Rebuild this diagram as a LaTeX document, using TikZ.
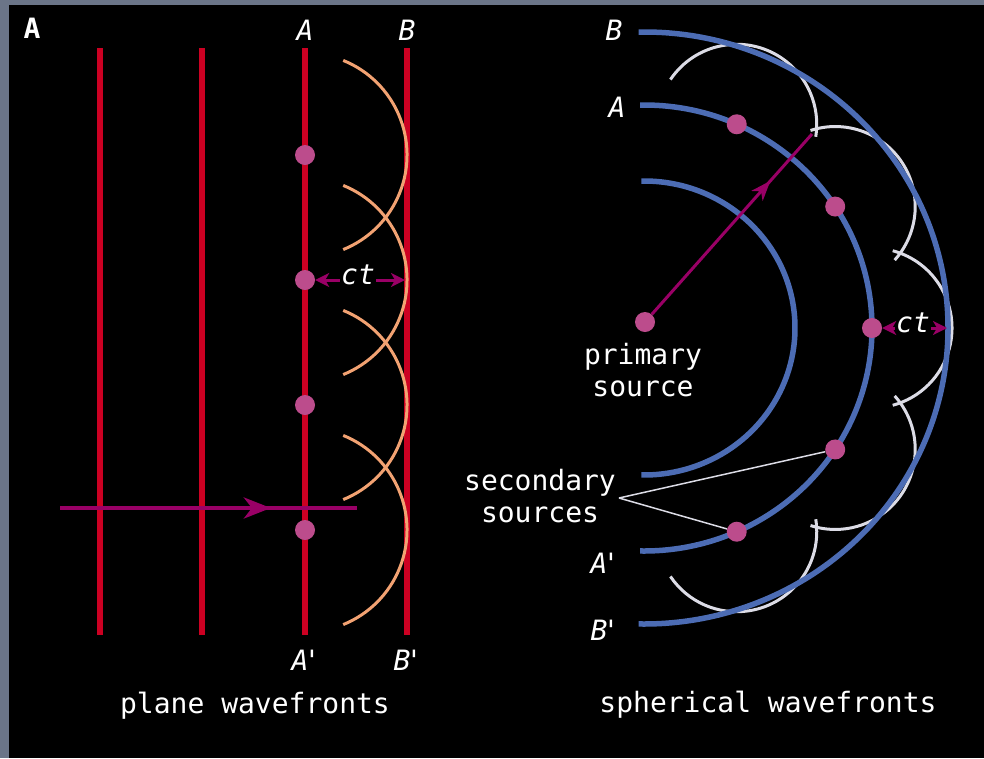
\documentclass[tikz,border=0pt]{standalone}
\usepackage{fontspec}
\newfontfamily\pixfont{DejaVu Sans Mono}
\usepackage{xcolor}
\usetikzlibrary{arrows.meta,calc,decorations.markings}
\definecolor{framec}{HTML}{6B7588}
\definecolor{frontc}{HTML}{CC0022}
\definecolor{waveletc}{HTML}{F2A272}
\definecolor{spherec}{HTML}{4C6CB4}
\definecolor{swaveletc}{HTML}{DCDCE6}
\definecolor{dotc}{HTML}{BC4C8C}
\definecolor{rayc}{HTML}{990066}

\begin{document}
\begin{tikzpicture}[x=1pt,y=-1pt,
  lab/.style={text=white,font=\pixfont\fontsize{28}{32}\selectfont,inner sep=1pt},
  itlab/.style={lab,font=\pixfont\itshape\fontsize{28}{32}\selectfont},
  dot/.style={circle,fill=dotc,minimum size=20pt,inner sep=0pt},
  front/.style={frontc,line width=6pt},
  pwave/.style={waveletc,line width=3pt},
  sphere/.style={spherec,line width=5.5pt},
  swave/.style={swaveletc,line width=3pt},
  midarrow/.style={postaction={decorate},decoration={markings,
    mark=at position #1 with {\arrow{Stealth[length=27pt,width=21pt,inset=8pt]}}}},
  smallmid/.style={postaction={decorate},decoration={markings,
    mark=at position #1 with {\arrow{Stealth[length=20pt,width=15pt,inset=6pt]}}}},
  ctarr/.style={rayc,line width=3pt,-{Stealth[length=14pt,width=14pt,inset=4pt]}},
  leader/.style={swaveletc,line width=1.5pt}]
  \useasboundingbox (0,0) rectangle (984,758);
  \fill[framec] (0,0) rectangle (984,758);
  \fill[black] (8.5,5) rectangle (984,758);

  % plane wavefronts
  \foreach \x in {100,202,305,407}
    \draw[front] (\x,48) -- (\x,635);
  \foreach \y [count=\i] in {155,280,405,530}
    \draw[pwave] (305,\y) ++(-68:102) arc[start angle=-68,end angle=68,radius=102];
  \coordinate (rayL) at (60,508);
  \coordinate (rayR) at (357,508);
  \draw[rayc,line width=4pt,midarrow=0.71] (rayL) -- (rayR);
  \foreach \y [count=\i] in {155,280,405,530}
    \node[dot] (p\i) at (305,\y) {};
  \node[lab,font=\pixfont\bfseries\fontsize{28}{32}\selectfont] (panel) at (32,28) {A};
  \node[itlab] (pA) at (305,30) {A};
  \node[itlab] (pB) at (407,30) {B};
  \node[itlab] (pA2) at (306,660) {A\kern-5pt'};
  \node[itlab] (pB2) at (408,660) {B\kern-5pt'};
  \node[itlab] (ct1) at (358,275) {ct};
  \coordinate (Bmid) at (405,280);
  \draw[ctarr] (ct1.west |- p2) -- (p2);
  \draw[ctarr] (ct1.east |- p2) -- (Bmid);
  \node[lab,anchor=base] (ptitle) at (255,713) {plane wavefronts};

  % spherical wavefronts
  \coordinate (O) at (644,328);
  \foreach \a [count=\i] in {-66,-33,0,33,66}
    \coordinate (c\i) at ($(O)+(\a:228 and 223)$);
  \foreach \i/\s/\e in {1/-146/9,2/-108/42,3/-75/75,4/-42/108,5/-9/146}
    \draw[swave] (c\i) ++(\s:80) arc[start angle=\s,end angle=\e,radius=80];
  \draw[sphere] (O) ++(-91:151 and 147) arc[start angle=-91,end angle=91,x radius=151,y radius=147];
  \draw[sphere] (O) ++(-91:228 and 223) arc[start angle=-91,end angle=91,x radius=228,y radius=223];
  \draw[sphere] (O) ++(-91:304 and 296) arc[start angle=-91,end angle=91,x radius=304,y radius=296];
  \node[dot] (prim) at (645,322) {};
  \coordinate (rayend) at (812,134);
  \draw[rayc,line width=3pt,smallmid=0.74] (prim) -- (rayend);
  \foreach \i in {1,...,5}
    \node[dot] (s\i) at (c\i) {};
  \node[itlab] (sB) at (614,30) {B};
  \node[itlab] (sA) at (617,107) {A};
  \node[itlab] (sA2) at (605,563) {A\kern-5pt'};
  \node[itlab] (sB2) at (605,630) {B\kern-5pt'};
  \node[itlab] (ct2) at (913,323) {ct};
  \coordinate (Bout) at (947,328);
  \draw[ctarr] (ct2.west |- s3) -- (s3);
  \draw[ctarr] (ct2.east |- s3) -- (Bout);
  \node[lab,align=center] (primlab) at (643,370) {primary\\source};
  \node[lab,align=center] (seclab) at (540,496) {secondary\\sources};
  \coordinate (lead) at (619,498);
  \draw[leader] (lead) -- (s4);
  \draw[leader] (lead) -- (s5);
  \node[lab,anchor=base] (stitle) at (768,712) {spherical wavefronts};
\end{tikzpicture}
\end{document}
